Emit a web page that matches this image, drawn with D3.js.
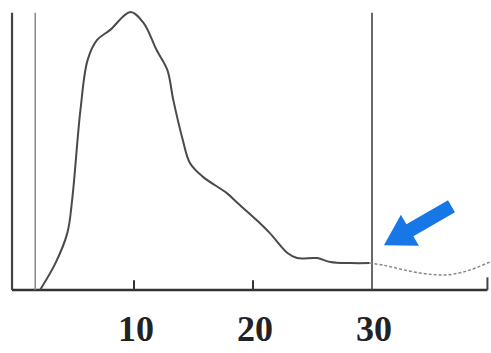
<!DOCTYPE html>
<html>
<head>
<meta charset="utf-8">
<script src="https://cdn.jsdelivr.net/npm/d3@7"></script>
<style>
  body { margin: 0; background: #fff; }
  .tick-label { font-family: "Liberation Serif", "DejaVu Serif", serif; font-weight: bold; fill: #222; }
</style>
</head>
<body>
<div id="chart"></div>
<script>
// curve (x, level)
const curveX = [2.1, 3.4, 4.4, 4.8, 5.5, 6.1, 6.9, 8.0, 9.7, 10.8, 11.9, 12.8, 13.3, 14.1, 14.7, 15.8, 17.8, 18.7, 20.3, 21.4, 22.9, 23.7, 25.4, 26.5, 28.2, 29.8];
const curveY = [0, 9.6, 20.4, 32.1, 64.3, 82.1, 89.3, 92.9, 99.3, 95.4, 85.7, 78.6, 67.9, 53.6, 45.4, 40.4, 34.6, 31.1, 25.0, 20.4, 13.2, 11.4, 11.4, 10.0, 9.6, 9.6];
// faint tail after the cut-off line
const tailX = [29.8, 30.9, 34.0, 36.3, 38.2, 39.9];
const tailY = [9.6, 8.9, 6.1, 5.4, 7.1, 10.0];
const tickValues = [10, 20, 30];
const cutOff = 30;
const startLine = 1.7;

const width = 491, height = 353;

const svg = d3.select("#chart").append("svg")
    .attr("width", width)
    .attr("height", height);

const x = d3.scaleLinear().domain([0, 40]).range([15, 491]);
const y = d3.scaleLinear().domain([0, 100]).range([290, 10]);

const toPts = (xs, ys) => xs.map((d, i) => [d, ys[i]]);

const line = d3.line()
    .x(d => x(d[0]))
    .y(d => y(d[1]))
    .curve(d3.curveCatmullRom.alpha(0.5));

// frame: left axis and baseline
svg.append("line")
    .attr("x1", x(-0.25)).attr("x2", x(-0.25))
    .attr("y1", y(99)).attr("y2", y(0))
    .attr("stroke", "#444").attr("stroke-width", 2.2);

svg.append("line")
    .attr("x1", x(-0.25)).attr("x2", x(39.7))
    .attr("y1", y(0)).attr("y2", y(0))
    .attr("stroke", "#333").attr("stroke-width", 2.4);

// right end tick
svg.append("line")
    .attr("x1", x(39.7)).attr("x2", x(39.7))
    .attr("y1", y(0)).attr("y2", y(4.5))
    .attr("stroke", "#444").attr("stroke-width", 2);

// thin start line
svg.append("line")
    .attr("x1", x(startLine)).attr("x2", x(startLine))
    .attr("y1", y(99)).attr("y2", y(0))
    .attr("stroke", "#888").attr("stroke-width", 1.5);

// cut-off line at 30
svg.append("line")
    .attr("x1", x(cutOff)).attr("x2", x(cutOff))
    .attr("y1", y(99)).attr("y2", y(0))
    .attr("stroke", "#444").attr("stroke-width", 1.6);

// small ticks
svg.selectAll(".tick-mark")
    .data(tickValues.filter(d => d !== cutOff))
    .join("line")
    .attr("class", "tick-mark")
    .attr("x1", d => x(d)).attr("x2", d => x(d))
    .attr("y1", y(0)).attr("y2", y(3.5))
    .attr("stroke", "#333").attr("stroke-width", 2);

// tick labels
svg.selectAll(".tick-label")
    .data(tickValues)
    .join("text")
    .attr("class", "tick-label")
    .attr("x", d => x(d) + 2)
    .attr("y", 341)
    .attr("text-anchor", "middle")
    .attr("font-size", 36)
    .text(d => d);

// main curve
svg.append("path")
    .datum(toPts(curveX, curveY))
    .attr("d", line)
    .attr("fill", "none")
    .attr("stroke", "#4a4a4a")
    .attr("stroke-width", 2);

// faint tail
svg.append("path")
    .datum(toPts(tailX, tailY))
    .attr("d", line)
    .attr("fill", "none")
    .attr("stroke", "#888")
    .attr("stroke-width", 1.5)
    .attr("stroke-dasharray", "3,2");

// blue arrow pointing at the cut-off
const tip = [x(31), y(16)];
const ang = Math.atan2(-38, 66);   // direction from tip back toward tail
const len = 78, headLen = 30, headW = 18, shaftW = 7;
const shape = [
    [0, 0], [headLen, -headW], [headLen, -shaftW], [len, -shaftW],
    [len, shaftW], [headLen, shaftW], [headLen, headW]
];
svg.append("path")
    .attr("d", d3.line()(shape) + "Z")
    .attr("transform", `translate(${tip[0]},${tip[1]}) rotate(${ang * 180 / Math.PI})`)
    .attr("fill", "#1877e6");
</script>
</body>
</html>
